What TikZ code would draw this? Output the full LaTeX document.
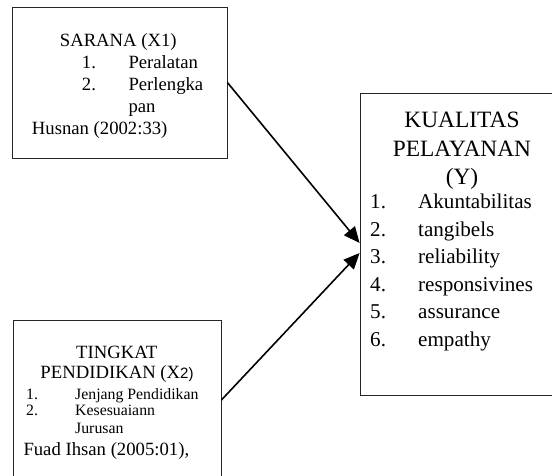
\documentclass[tikz,border=0pt]{standalone}
\usepackage{fontspec}
\setmainfont{Liberation Serif}
\setsansfont{Liberation Sans}
\usetikzlibrary{arrows.meta}

\begin{document}
\begin{tikzpicture}[x=1pt, y=-1pt,
        box/.style={draw=black!85, line width=0.8pt, inner sep=0pt},
        txt/.style={inner sep=0pt, anchor=base west, font=\fontsize{18.7}{22}\selectfont},
        ctr/.style={txt, anchor=base},
        small/.style={txt, font=\fontsize{15.8}{18}\selectfont},
        big/.style={ctr, font=\fontsize{23.4}{28}\selectfont},
        item/.style={txt, font=\fontsize{21.1}{25}\selectfont},
        link/.style={draw, line width=1.6pt, -{Triangle[length=16pt, width=14pt]}}
    ]
    \useasboundingbox (0,0) rectangle (552,475);
    \clip (0,0) rectangle (552,475);
    % boxes
    \node[box, minimum width=215pt, minimum height=151pt] (sarana) at (119.5,82.5) {};
    \node[box, minimum width=208pt, minimum height=160pt] (pendidikan) at (117,400) {};
    \node[box, minimum width=204pt, minimum height=302pt] (kualitas) at (462,244) {};
    % X1
    \node[ctr] (saranaT) at (118.3,46.5) {SARANA (X1)};
    \node[txt] (saranaN1) at (81.7,68.5) {1.};
    \node[txt] (saranaA) at (128.3,68.5) {Peralatan};
    \node[txt] (saranaN2) at (81.7,90.5) {2.};
    \node[txt] (saranaB) at (128.3,90.5) {Perlengka};
    \node[txt] (saranaB2) at (128.3,112.5) {pan};
    \node[txt] (saranaS) at (31.7,134.5) {Husnan (2002:33)};
    % X2
    \node[ctr] (pendidikanT1) at (116.7,358.3) {TINGKAT};
    \node[ctr] (pendidikanT2) at (117,378.3) {PENDIDIKAN (X{\sffamily\fontsize{15}{18}\selectfont 2)}};
    \node[small] (pendidikanN1) at (26,399) {1.};
    \node[small] (pendidikanA) at (75,399) {Jenjang Pendidikan};
    \node[small] (pendidikanN2) at (26,415.5) {2.};
    \node[small] (pendidikanB) at (75,415.5) {Kesesuaiann};
    \node[small] (pendidikanB2) at (75,433) {Jurusan};
    \node[txt] (pendidikanS) at (23.3,455) {Fuad Ihsan (2005:01),};
    % Y
    \node[big] (kualitasT1) at (462,127) {KUALITAS};
    \node[big] (kualitasT2) at (462,156) {PELAYANAN};
    \node[big] (kualitasT3) at (462,184) {(Y)};
    \node[item] (kualitasN1) at (370,208.5) {1.};
    \node[item] (kualitasA) at (418,208.5) {Akuntabilitas};
    \node[item] (kualitasN2) at (370,236) {2.};
    \node[item] (kualitasB) at (418,236) {tangibels};
    \node[item] (kualitasN3) at (370,263.5) {3.};
    \node[item] (kualitasC) at (418,263.5) {reliability};
    \node[item] (kualitasN4) at (370,291) {4.};
    \node[item] (kualitasD) at (418,291) {responsivines};
    \node[item] (kualitasN5) at (370,318.5) {5.};
    \node[item] (kualitasE) at (418,318.5) {assurance};
    \node[item] (kualitasN6) at (370,346) {6.};
    \node[item] (kualitasF) at (418,346) {empathy};
    % arrows
    \draw[link] (sarana.east) -- ([yshift=1pt]kualitas.west);
    \draw[link] (pendidikan.east) -- ([yshift=-9pt]kualitas.west);
\end{tikzpicture}
\end{document}
